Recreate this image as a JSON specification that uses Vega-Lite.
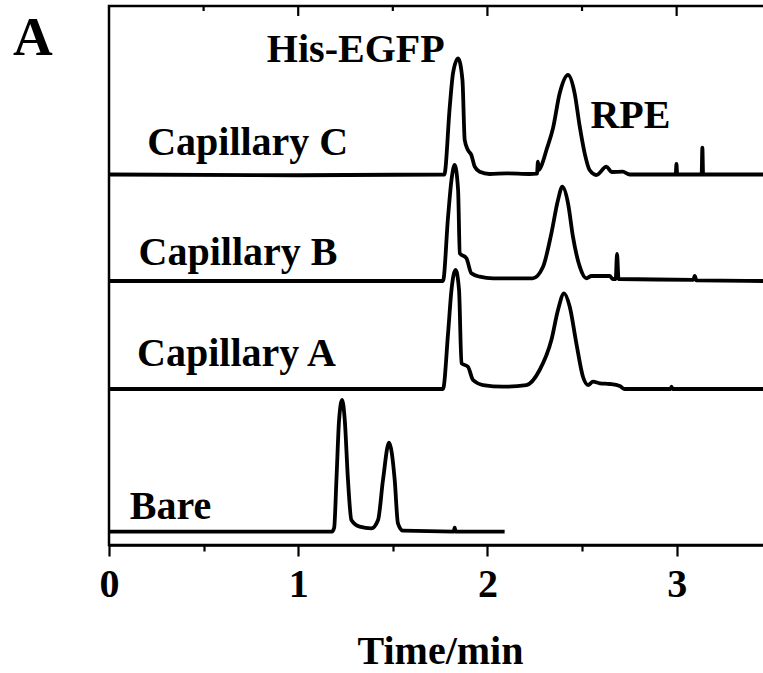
{
  "$schema": "https://vega.github.io/schema/vega-lite/v6.json",
  "autosize": "none",
  "width": 656,
  "height": 539,
  "padding": {"left": 109, "top": 6, "right": 0, "bottom": 128},
  "background": "white",
  "config": {"view": {"stroke": "black", "strokeWidth": 2.5}, "axis": {"grid": false}},
  "resolve": {"axis": {"x": "independent", "y": "independent"}},
  "layer": [
    {
      "data": {"values": [
        {"trace": "C", "t": 0, "u": 68.74},
        {"trace": "C", "t": 1.0, "u": 68.6},
        {"trace": "C", "t": 1.772, "u": 68.74},
        {"trace": "C", "t": 1.801, "u": 81.32},
        {"trace": "C", "t": 1.818, "u": 87.51},
        {"trace": "C", "t": 1.845, "u": 90.3},
        {"trace": "C", "t": 1.868, "u": 86.27},
        {"trace": "C", "t": 1.88, "u": 75.14},
        {"trace": "C", "t": 1.897, "u": 73.28},
        {"trace": "C", "t": 1.915, "u": 72.36},
        {"trace": "C", "t": 1.933, "u": 70.19},
        {"trace": "C", "t": 1.959, "u": 69.26},
        {"trace": "C", "t": 2.012, "u": 68.83},
        {"trace": "C", "t": 2.1, "u": 68.95},
        {"trace": "C", "t": 2.223, "u": 68.83},
        {"trace": "C", "t": 2.262, "u": 68.9},
        {"trace": "C", "t": 2.267, "u": 71.1},
        {"trace": "C", "t": 2.272, "u": 69.6},
        {"trace": "C", "t": 2.29, "u": 70.8},
        {"trace": "C", "t": 2.312, "u": 73.28},
        {"trace": "C", "t": 2.347, "u": 77.4},
        {"trace": "C", "t": 2.382, "u": 83.8},
        {"trace": "C", "t": 2.426, "u": 87.2},
        {"trace": "C", "t": 2.461, "u": 83.8},
        {"trace": "C", "t": 2.488, "u": 77.61},
        {"trace": "C", "t": 2.514, "u": 72.67},
        {"trace": "C", "t": 2.54, "u": 69.57},
        {"trace": "C", "t": 2.576, "u": 68.65},
        {"trace": "C", "t": 2.629, "u": 70.19},
        {"trace": "C", "t": 2.657, "u": 69.2},
        {"trace": "C", "t": 2.715, "u": 69.26},
        {"trace": "C", "t": 2.752, "u": 68.74},
        {"trace": "C", "t": 2.995, "u": 68.74},
        {"trace": "C", "t": 2.999, "u": 70.69},
        {"trace": "C", "t": 3.003, "u": 68.74},
        {"trace": "C", "t": 3.132, "u": 68.74},
        {"trace": "C", "t": 3.136, "u": 73.71},
        {"trace": "C", "t": 3.14, "u": 68.74},
        {"trace": "C", "t": 3.467, "u": 68.74},

        {"trace": "B", "t": 0, "u": 48.98},
        {"trace": "B", "t": 1.765, "u": 48.98},
        {"trace": "B", "t": 1.792, "u": 60.91},
        {"trace": "B", "t": 1.81, "u": 67.72},
        {"trace": "B", "t": 1.827, "u": 70.5},
        {"trace": "B", "t": 1.845, "u": 65.86},
        {"trace": "B", "t": 1.854, "u": 54.12},
        {"trace": "B", "t": 1.889, "u": 53.19},
        {"trace": "B", "t": 1.915, "u": 50.41},
        {"trace": "B", "t": 1.959, "u": 49.78},
        {"trace": "B", "t": 2.03, "u": 49.48},
        {"trace": "B", "t": 2.239, "u": 49.48},
        {"trace": "B", "t": 2.294, "u": 51.63},
        {"trace": "B", "t": 2.338, "u": 57.83},
        {"trace": "B", "t": 2.373, "u": 64.01},
        {"trace": "B", "t": 2.396, "u": 66.48},
        {"trace": "B", "t": 2.426, "u": 63.4},
        {"trace": "B", "t": 2.452, "u": 57.2},
        {"trace": "B", "t": 2.488, "u": 51.63},
        {"trace": "B", "t": 2.523, "u": 49.48},
        {"trace": "B", "t": 2.55, "u": 49.91},
        {"trace": "B", "t": 2.646, "u": 49.91},
        {"trace": "B", "t": 2.662, "u": 49.35},
        {"trace": "B", "t": 2.678, "u": 49.35},
        {"trace": "B", "t": 2.685, "u": 53.99},
        {"trace": "B", "t": 2.693, "u": 49.35},
        {"trace": "B", "t": 3.088, "u": 49.2},
        {"trace": "B", "t": 3.096, "u": 49.91},
        {"trace": "B", "t": 3.104, "u": 49.1},
        {"trace": "B", "t": 3.467, "u": 48.98},

        {"trace": "A", "t": 0, "u": 28.94},
        {"trace": "A", "t": 1.765, "u": 28.94},
        {"trace": "A", "t": 1.792, "u": 39.28},
        {"trace": "A", "t": 1.81, "u": 47.31},
        {"trace": "A", "t": 1.832, "u": 51.02},
        {"trace": "A", "t": 1.85, "u": 47.31},
        {"trace": "A", "t": 1.863, "u": 33.71},
        {"trace": "A", "t": 1.897, "u": 33.08},
        {"trace": "A", "t": 1.924, "u": 30.61},
        {"trace": "A", "t": 1.977, "u": 29.68},
        {"trace": "A", "t": 2.082, "u": 29.37},
        {"trace": "A", "t": 2.206, "u": 29.68},
        {"trace": "A", "t": 2.276, "u": 32.47},
        {"trace": "A", "t": 2.338, "u": 38.03},
        {"trace": "A", "t": 2.373, "u": 43.6},
        {"trace": "A", "t": 2.405, "u": 46.7},
        {"trace": "A", "t": 2.435, "u": 44.21},
        {"trace": "A", "t": 2.47, "u": 37.42},
        {"trace": "A", "t": 2.505, "u": 31.22},
        {"trace": "A", "t": 2.532, "u": 29.68},
        {"trace": "A", "t": 2.558, "u": 30.3},
        {"trace": "A", "t": 2.594, "u": 30.0},
        {"trace": "A", "t": 2.646, "u": 29.87},
        {"trace": "A", "t": 2.699, "u": 29.5},
        {"trace": "A", "t": 2.726, "u": 28.94},
        {"trace": "A", "t": 2.968, "u": 28.94},
        {"trace": "A", "t": 2.973, "u": 29.4},
        {"trace": "A", "t": 2.978, "u": 28.94},
        {"trace": "A", "t": 3.467, "u": 28.94},

        {"trace": "Bare", "t": 0, "u": 2.47},
        {"trace": "Bare", "t": 1.178, "u": 2.47},
        {"trace": "Bare", "t": 1.19, "u": 3.2},
        {"trace": "Bare", "t": 1.202, "u": 12.06},
        {"trace": "Bare", "t": 1.216, "u": 23.19},
        {"trace": "Bare", "t": 1.232, "u": 26.9},
        {"trace": "Bare", "t": 1.246, "u": 23.19},
        {"trace": "Bare", "t": 1.263, "u": 12.06},
        {"trace": "Bare", "t": 1.281, "u": 4.64},
        {"trace": "Bare", "t": 1.325, "u": 3.4},
        {"trace": "Bare", "t": 1.387, "u": 3.1},
        {"trace": "Bare", "t": 1.422, "u": 4.64},
        {"trace": "Bare", "t": 1.448, "u": 12.06},
        {"trace": "Bare", "t": 1.48, "u": 18.98},
        {"trace": "Bare", "t": 1.51, "u": 12.06},
        {"trace": "Bare", "t": 1.527, "u": 4.03},
        {"trace": "Bare", "t": 1.554, "u": 2.65},
        {"trace": "Bare", "t": 1.822, "u": 2.5},
        {"trace": "Bare", "t": 1.827, "u": 3.2},
        {"trace": "Bare", "t": 1.832, "u": 2.5},
        {"trace": "Bare", "t": 2.091, "u": 2.47}
      ]},
      "mark": {"type": "line", "interpolate": "monotone", "color": "black", "strokeWidth": 3.8, "strokeJoin": "round"},
      "encoding": {
        "x": {
          "field": "t", "type": "quantitative",
          "scale": {"domain": [0, 3.467], "nice": false, "zero": false},
          "axis": {
            "orient": "bottom",
            "values": [0, 0.5, 1, 1.5, 2, 2.5, 3],
            "labelExpr": "datum.value % 1 === 0 ? format(datum.value, 'd') : ''",
            "labelFont": "Liberation Serif", "labelFontWeight": "bold", "labelFontSize": 40,
            "labelColor": "black", "labelPadding": 8, "labelFlush": false, "labelOverlap": false,
            "domainColor": "black", "domainWidth": 2.5,
            "tickColor": "black", "tickWidth": 2.2,
            "tickSize": {"condition": {"test": "datum.value % 1 !== 0", "value": 6}, "value": 11},
            "title": "Time/min",
            "titleFont": "Liberation Serif", "titleFontWeight": "bold", "titleFontSize": 40,
            "titleColor": "black", "titleBaseline": "alphabetic", "titleX": 331, "titleY": 118
          }
        },
        "y": {
          "field": "u", "type": "quantitative",
          "scale": {"domain": [0, 100], "nice": false, "zero": false},
          "axis": null
        },
        "detail": {"field": "trace"}
      }
    },
    {
      "data": {"values": [{"t": 1}, {"t": 2}, {"t": 3}]},
      "mark": {"type": "rule", "color": "black", "strokeWidth": 2.2},
      "encoding": {
        "x": {"field": "t", "type": "quantitative", "axis": null},
        "y": {"datum": 100, "type": "quantitative", "axis": null},
        "y2": {"datum": 98.15}
      }
    },
    {
      "data": {"values": [{"t": 0.5}, {"t": 1.5}, {"t": 2.5}]},
      "mark": {"type": "rule", "color": "black", "strokeWidth": 2.2},
      "encoding": {
        "x": {"field": "t", "type": "quantitative", "axis": null},
        "y": {"datum": 100, "type": "quantitative", "axis": null},
        "y2": {"datum": 99.07}
      }
    },
    {
      "data": {"values": [
        {"label": "His-EGFP", "t": 1.304, "u": 89.67, "size": 40},
        {"label": "RPE", "t": 2.756, "u": 77.31, "size": 40},
        {"label": "Capillary C", "t": 0.733, "u": 72.36, "size": 40},
        {"label": "Capillary B", "t": 0.682, "u": 51.95, "size": 40},
        {"label": "Capillary A", "t": 0.674, "u": 33.27, "size": 40},
        {"label": "Bare", "t": 0.325, "u": 4.82, "size": 40},
        {"label": "A", "t": -0.402, "u": 90.91, "size": 55}
      ]},
      "mark": {"type": "text", "font": "Liberation Serif", "fontWeight": "bold", "align": "center", "baseline": "alphabetic", "color": "black"},
      "encoding": {
        "x": {"field": "t", "type": "quantitative", "axis": null},
        "y": {"field": "u", "type": "quantitative", "axis": null},
        "text": {"field": "label"},
        "size": {"field": "size", "type": "quantitative", "scale": null}
      }
    }
  ]
}
